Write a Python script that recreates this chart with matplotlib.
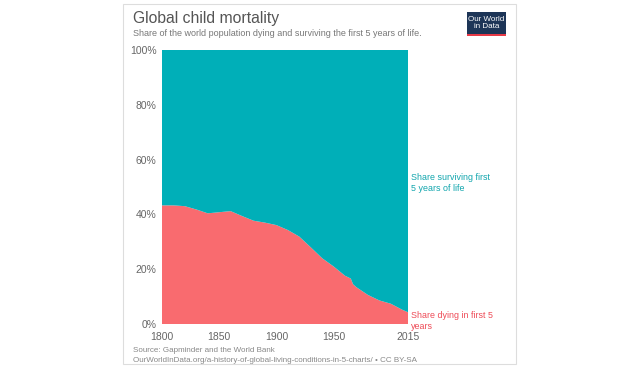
import matplotlib
matplotlib.use("Agg")
import matplotlib.pyplot as plt
from matplotlib.patches import Rectangle
from matplotlib.ticker import FuncFormatter

plt.rcParams['font.family'] = ['Liberation Sans', 'DejaVu Sans']

years = [1800, 1810, 1820, 1830, 1840, 1850, 1860, 1870, 1880, 1890, 1900,
         1910, 1920, 1930, 1940, 1950, 1960, 1965, 1967, 1970, 1980, 1990,
         2000, 2010, 2015]
dying = [43.3, 43.3, 43.0, 41.8, 40.4, 40.8, 41.2, 39.4, 37.7, 37.0, 36.1,
         34.3, 31.9, 28.0, 24.0, 21.0, 17.6, 16.6, 14.5, 13.4, 10.6, 8.6,
         7.4, 5.2, 4.3]
surviving = [100 - d for d in dying]

teal = "#00AFB8"
red = "#F96B6F"

fig = plt.figure(figsize=(6.4, 3.68), dpi=100)
fig.patches.append(Rectangle((123 / 640, 4 / 368), 393 / 640, 360 / 368,
                             transform=fig.transFigure, fill=False,
                             edgecolor="#dddddd", linewidth=0.8))

ax = fig.add_axes([162 / 640, 44 / 368, 246 / 640, 274 / 368])
ax.stackplot(years, dying, surviving, colors=[red, teal], linewidth=0)
ax.set_xlim(1800, 2015)
ax.set_ylim(0, 100)
ax.set_xticks([1800, 1850, 1900, 1950, 2015])
ax.set_yticks([0, 20, 40, 60, 80, 100])
ax.yaxis.set_major_formatter(FuncFormatter(lambda v, p: f"{v:.0f}%"))
ax.tick_params(length=0, labelsize=7.5, labelcolor="#666666", pad=4)
ax.tick_params(axis="x", pad=6)
for s in ax.spines.values():
    s.set_visible(False)

ax.text(1.012, 0.515, "Share surviving first\n5 years of life", transform=ax.transAxes,
        color="#10a5ad", fontsize=6.4, va="center", ha="left", linespacing=1.3)
ax.text(1.012, 0.011, "Share dying in first 5\nyears", transform=ax.transAxes,
        color="#ee4a56", fontsize=6.4, va="center", ha="left", linespacing=1.3)

fig.text(133 / 640, 1 - 19 / 368, "Global child mortality", fontsize=11.3,
         color="#555555", va="center")
fig.text(133 / 640, 1 - 34 / 368,
         "Share of the world population dying and surviving the first 5 years of life.",
         fontsize=6.5, color="#777777", va="center")
fig.text(133 / 640, 1 - 350 / 368, "Source: Gapminder and the World Bank",
         fontsize=5.8, color="#888888", va="center")
fig.text(133 / 640, 1 - 360 / 368,
         "OurWorldInData.org/a-history-of-global-living-conditions-in-5-charts/ \u2022 CC BY-SA",
         fontsize=5.8, color="#888888", va="center")

# logo
fig.patches.append(Rectangle((467 / 640, 1 - 36 / 368), 39 / 640, 24 / 368,
                             transform=fig.transFigure, facecolor="#1d3557",
                             edgecolor="none"))
fig.patches.append(Rectangle((467 / 640, 1 - 36 / 368), 39 / 640, 2.5 / 368,
                             transform=fig.transFigure, facecolor="#e63946",
                             edgecolor="none"))
fig.text(486.5 / 640, 1 - 23 / 368, "Our World\nin Data", fontsize=5.8, color="white",
         ha="center", va="center", linespacing=0.95)

fig.savefig("out.png", dpi=100)
